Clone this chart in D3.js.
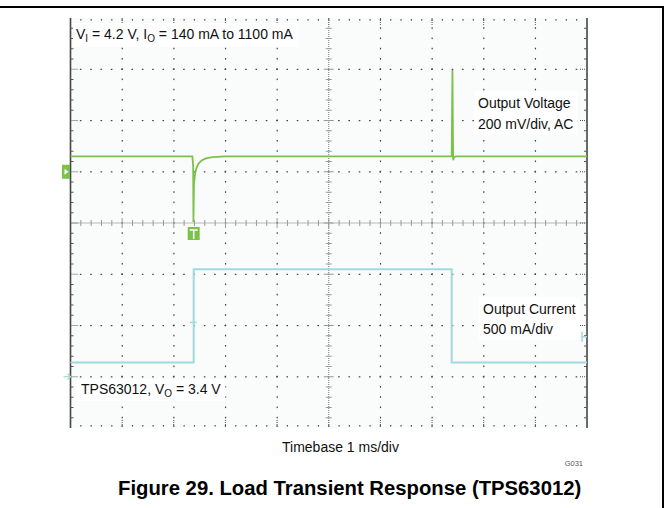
<!DOCTYPE html>
<html>
<head>
<meta charset="utf-8">
<script src="https://cdn.jsdelivr.net/npm/d3@7"></script>
<style>
  body { margin: 0; background: white; }
  text { font-family: "Liberation Sans", Arial, sans-serif; }
</style>
</head>
<body>
<div id="container"></div>
<script>
// scope screen: 10 div x 8 div, 1 ms/div
let timeDivs = d3.range(0, 11);
let vertDivs = d3.range(-4, 5);

// output voltage (AC, mV)
let voltTime  = [0, 1.2, 2.36, 2.375, 2.38, 2.385, 2.39, 2.41, 2.44, 2.48, 2.54, 2.62, 2.75, 3.0, 5.0, 7.38, 7.395, 7.40, 7.405, 7.41, 7.42, 7.45, 10];
let voltValue = [0, 0, 0, -40, -256, -180, -110, -70, -45, -28, -16, -8, -3, 0, 0, 0, 337, 200, 60, -15, -6, 0, 0];

// output current (mA)
let currTime  = [0, 2.385, 2.385, 7.38, 7.38, 10];
let currValue = [140, 140, 1050, 1050, 140, 140];

// current trigger level / cursor marks (mA)
let trigLevel = 390;
let stepMark = 530;

let labels = {
  vLabel: ["Output Voltage", "200 mV/div, AC"],
  iLabel: ["Output Current", "500 mA/div"]
};

let w = 669;
let h = 508;
let fs = "14px";
let subFs = "10px";
let green = "#7cc24a";
let cyan = "#a2d9da";

let svg = d3.select("#container").append("svg")
    .attr("width", w)
    .attr("height", h)
    .style("display", "block")
    .style("background", "white");

// page frame (top + right rule)
svg.append("line").attr("x1", 0).attr("x2", 664).attr("y1", 7).attr("y2", 7)
    .attr("stroke", "black").attr("stroke-width", 2);
svg.append("line").attr("x1", 663).attr("x2", 663).attr("y1", 7).attr("y2", h)
    .attr("stroke", "black").attr("stroke-width", 2);

let x = d3.scaleLinear().domain([0, 10]).range([70.5, 587]);
let yDiv = d3.scaleLinear().domain([-4, 4]).range([428, 18]);
// volts: 200 mV/div, 0 at +1.3 div
let yV = d3.scaleLinear().domain([(-4 - 1.3) * 200, (4 - 1.3) * 200]).range([428, 18]);
// current: 500 mA/div, 0 at -3 div
let yI = d3.scaleLinear().domain([(-4 + 3) * 500, (4 + 3) * 500]).range([428, 18]);

svg.append("rect")
    .attr("x", x(0)).attr("y", yDiv(4))
    .attr("width", x(10) - x(0)).attr("height", yDiv(-4) - yDiv(4))
    .attr("fill", "#fafcfc");

let grid = svg.append("g");
let minorX = d3.range(0, 50.5, 1).map(d => d / 5);
let minorY = d3.range(-20, 20.5, 1).map(d => d / 5);

// dots along the major grid lines
timeDivs.filter(d => d > 0 && d < 10 && d != 5).forEach(t => {
  grid.selectAll(null).data(minorY.filter(v => v > -4 && v < 4)).enter()
    .append("rect")
      .attr("x", x(t) - 0.5).attr("y", d => yDiv(d) - 1)
      .attr("width", 1.2).attr("height", 1.6)
      .attr("fill", "#444");
});
vertDivs.filter(d => d > -4 && d < 4 && d != 0).forEach(v => {
  grid.selectAll(null).data(minorX.filter(t => t > 0 && t < 10)).enter()
    .append("rect")
      .attr("x", d => x(d) - 1).attr("y", yDiv(v) - 0.5)
      .attr("width", 1.6).attr("height", 1.2)
      .attr("fill", "#444");
});

// top and bottom edge dots
[yDiv(4) + 1, yDiv(-4) - 3].forEach(yy => {
  grid.selectAll(null).data(minorX.filter(t => t > 0 && t < 10)).enter()
    .append("rect")
      .attr("x", d => x(d) - 0.6).attr("y", yy)
      .attr("width", 1.2).attr("height", 1.6)
      .attr("fill", "#555");
});
timeDivs.filter(d => d > 0 && d < 10).forEach(t => {
  grid.append("line").attr("x1", x(t)).attr("x2", x(t))
      .attr("y1", yDiv(4)).attr("y2", yDiv(4) + 8)
      .attr("stroke", "#555").attr("stroke-dasharray", "1,1");
  grid.append("line").attr("x1", x(t)).attr("x2", x(t))
      .attr("y1", yDiv(-4) - 8).attr("y2", yDiv(-4))
      .attr("stroke", "#555").attr("stroke-dasharray", "1,1");
});

// centre cross with ticks
grid.append("line").attr("x1", x(0)).attr("x2", x(10))
    .attr("y1", yDiv(0)).attr("y2", yDiv(0))
    .attr("stroke", "#777").attr("stroke-dasharray", "1,1");
grid.append("line").attr("x1", x(5)).attr("x2", x(5))
    .attr("y1", yDiv(4)).attr("y2", yDiv(-4))
    .attr("stroke", "#777").attr("stroke-dasharray", "1,1");
grid.selectAll(null).data(minorX.filter(t => t > 0 && t < 10)).enter()
  .append("line")
    .attr("x1", d => x(d)).attr("x2", d => x(d))
    .attr("y1", d => yDiv(0) - (d % 1 == 0 ? 5 : 3))
    .attr("y2", d => yDiv(0) + (d % 1 == 0 ? 5 : 3))
    .attr("stroke", "#999");
grid.selectAll(null).data(minorY.filter(v => v > -4 && v < 4)).enter()
  .append("line")
    .attr("y1", d => yDiv(d)).attr("y2", d => yDiv(d))
    .attr("x1", d => x(5) - (Math.abs(d % 1) < 1e-9 ? 5 : 3))
    .attr("x2", d => x(5) + (Math.abs(d % 1) < 1e-9 ? 5 : 3))
    .attr("stroke", "#999");

// left / right solid edges with ticks
[[x(0), 1], [x(10), -1]].forEach(([xx, dir]) => {
  grid.append("line").attr("x1", xx).attr("x2", xx)
      .attr("y1", yDiv(4)).attr("y2", yDiv(-4))
      .attr("stroke", "#444").attr("stroke-width", 1.6);
  grid.selectAll(null).data(minorY.filter(v => v > -4 && v < 4)).enter()
    .append("line")
      .attr("x1", xx).attr("x2", d => xx + dir * (Math.abs(d % 1) < 1e-9 ? 8 : 3))
      .attr("y1", d => yDiv(d)).attr("y2", d => yDiv(d))
      .attr("stroke", "#555")
      .attr("stroke-dasharray", d => Math.abs(d % 1) < 1e-9 ? "1,1" : null);
});

// text boxes hide the grid under them
function label(x0, y0, lines, dy) {
  let g = svg.append("g");
  let t = g.append("text").attr("x", x0).attr("y", y0)
      .attr("font-size", fs).attr("fill", "#111");
  lines.forEach((s, i) => {
    t.append("tspan").attr("x", x0).attr("dy", i == 0 ? 0 : dy).text(s);
  });
  let b = t.node().getBBox();
  g.insert("rect", "text")
      .attr("x", b.x - 4).attr("y", b.y - 3)
      .attr("width", b.width + 8).attr("height", b.height + 6)
      .attr("fill", "white");
}

label(478, 107.5, labels.vLabel, 21);
label(483, 313.5, labels.iLabel, 20.5);

// V_I / I_O line
let g1 = svg.append("g");
let t1 = g1.append("text").attr("x", 76).attr("y", 39)
    .attr("font-size", fs).attr("fill", "#111");
t1.append("tspan").text("V");
t1.append("tspan").attr("font-size", subFs).attr("dy", 3).text("I");
t1.append("tspan").attr("dy", -3).text(" = 4.2 V, I");
t1.append("tspan").attr("font-size", subFs).attr("dy", 3).text("O");
t1.append("tspan").attr("dy", -3).text(" = 140 mA to 1100 mA");
let b1 = t1.node().getBBox();
g1.insert("rect", "text").attr("x", b1.x - 3).attr("y", b1.y - 3)
    .attr("width", b1.width + 8).attr("height", b1.height + 6).attr("fill", "white");

let g2 = svg.append("g");
let t2 = g2.append("text").attr("x", 81).attr("y", 394)
    .attr("font-size", fs).attr("fill", "#111");
t2.append("tspan").text("TPS63012, V");
t2.append("tspan").attr("font-size", subFs).attr("dy", 3).text("O");
t2.append("tspan").attr("dy", -3).text(" = 3.4 V");
let b2 = t2.node().getBBox();
g2.insert("rect", "text").attr("x", b2.x - 4).attr("y", b2.y - 2)
    .attr("width", b2.width + 8).attr("height", b2.height + 4).attr("fill", "white");

// traces
let vLine = d3.line().x(d => x(d[0])).y(d => yV(d[1]));
let iLine = d3.line().x(d => x(d[0])).y(d => yI(d[1]));

svg.append("path")
    .datum(currTime.map((t, i) => [t, currValue[i]]))
    .attr("d", iLine)
    .attr("fill", "none").attr("stroke", cyan).attr("stroke-width", 2);

svg.append("path")
    .datum(voltTime.map((t, i) => [t, voltValue[i]]))
    .attr("d", vLine)
    .attr("fill", "none").attr("stroke", green).attr("stroke-width", 1.8);

// channel markers
let mk = svg.append("g");
mk.append("rect").attr("x", x(0) - 8.5).attr("y", yDiv(1) - 7)
    .attr("width", 8).attr("height", 14).attr("fill", green);
mk.append("path")
    .attr("d", `M${x(0) - 6},${yDiv(1) - 3} L${x(0) - 2},${yDiv(1)} L${x(0) - 6},${yDiv(1) + 3} Z`)
    .attr("fill", "white");

// trigger marker
let tx = x(currTime[1]);
mk.append("rect").attr("x", tx - 6).attr("y", yDiv(0) + 4)
    .attr("width", 12).attr("height", 13).attr("fill", green);
mk.append("path")
    .attr("d", `M${tx - 4},${yDiv(0) + 7} H${tx + 4} M${tx},${yDiv(0) + 7} V${yDiv(0) + 16}`)
    .attr("stroke", "white").attr("stroke-width", 1.5);

// current ground arrow
mk.append("line").attr("x1", x(0) - 7).attr("x2", x(0)).attr("y1", yI(0)).attr("y2", yI(0))
    .attr("stroke", cyan).attr("stroke-width", 1.2);
mk.append("path")
    .attr("d", `M${x(0) - 3},${yI(0) - 3} L${x(0)},${yI(0)} L${x(0) - 3},${yI(0) + 3}`)
    .attr("fill", "none").attr("stroke", cyan).attr("stroke-width", 1.2);

// current trigger level at the right edge
mk.append("path")
    .attr("d", `M${x(10) - 5},${yI(trigLevel) - 5} V${yI(trigLevel) + 5} M${x(10) - 5},${yI(trigLevel)} H${x(10)}`)
    .attr("fill", "none").attr("stroke", cyan).attr("stroke-width", 1.5);
mk.append("line").attr("x1", tx - 4).attr("x2", tx + 3)
    .attr("y1", yI(stepMark)).attr("y2", yI(stepMark))
    .attr("stroke", cyan).attr("stroke-width", 1.5);

// bottom captions
svg.append("text").attr("x", 282).attr("y", 452)
    .attr("font-size", fs).attr("fill", "#111")
    .text("Timebase 1 ms/div");

svg.append("text").attr("x", 583).attr("y", 466)
    .attr("text-anchor", "end")
    .attr("font-size", "7.5px").attr("fill", "#555")
    .text("G031");

svg.append("text").attr("x", 118).attr("y", 495)
    .attr("font-size", "20.3px").attr("font-weight", "bold").attr("fill", "black")
    .text("Figure 29. Load Transient Response (TPS63012)");
</script>
</body>
</html>
